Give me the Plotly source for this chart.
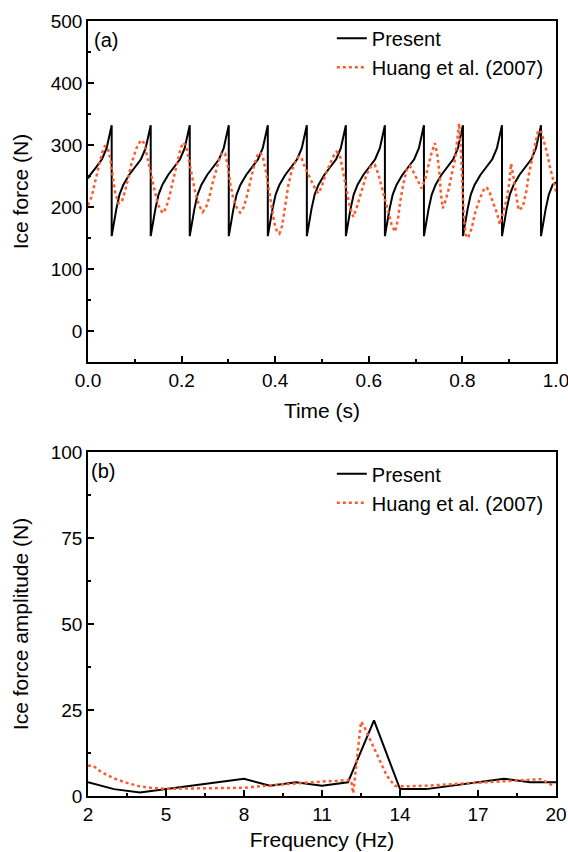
import plotly.graph_objects as go

# ---------------- data: panel (a) ----------------
time_present = [
    0.0000, 0.0047, 0.0172, 0.0298, 0.0398, 0.0464, 0.0506,
    0.0506, 0.0548, 0.0606, 0.0673, 0.0756, 0.0881, 0.1006, 0.1132, 0.1232, 0.1298, 0.1340,
    0.1340, 0.1382, 0.1440, 0.1507, 0.1590, 0.1715, 0.1840, 0.1966, 0.2066, 0.2132, 0.2174,
    0.2174, 0.2216, 0.2274, 0.2341, 0.2424, 0.2549, 0.2674, 0.2800, 0.2900, 0.2966, 0.3008,
    0.3008, 0.3050, 0.3108, 0.3175, 0.3258, 0.3383, 0.3508, 0.3634, 0.3734, 0.3800, 0.3842,
    0.3842, 0.3884, 0.3942, 0.4009, 0.4092, 0.4217, 0.4342, 0.4468, 0.4568, 0.4634, 0.4676,
    0.4676, 0.4718, 0.4776, 0.4843, 0.4926, 0.5051, 0.5176, 0.5302, 0.5402, 0.5468, 0.5510,
    0.5510, 0.5552, 0.5610, 0.5677, 0.5760, 0.5885, 0.6010, 0.6136, 0.6236, 0.6302, 0.6344,
    0.6344, 0.6386, 0.6444, 0.6511, 0.6594, 0.6719, 0.6844, 0.6970, 0.7070, 0.7136, 0.7178,
    0.7178, 0.7220, 0.7278, 0.7345, 0.7428, 0.7553, 0.7678, 0.7804, 0.7904, 0.7970, 0.8012,
    0.8012, 0.8054, 0.8112, 0.8179, 0.8262, 0.8387, 0.8512, 0.8638, 0.8738, 0.8804, 0.8846,
    0.8846, 0.8888, 0.8946, 0.9013, 0.9096, 0.9221, 0.9346, 0.9472, 0.9572, 0.9638, 0.9680,
    0.9680, 0.9722, 0.9780, 0.9847, 0.9930, 1.0000,
]
force_present = [
    246, 252, 264, 277, 295, 316, 332,
    153, 172, 197, 220, 236, 252, 264, 277, 295, 316, 332,
    153, 172, 197, 220, 236, 252, 264, 277, 295, 316, 332,
    153, 172, 197, 220, 236, 252, 264, 277, 295, 316, 332,
    153, 172, 197, 220, 236, 252, 264, 277, 295, 316, 332,
    153, 172, 197, 220, 236, 252, 264, 277, 295, 316, 332,
    153, 172, 197, 220, 236, 252, 264, 277, 295, 316, 332,
    153, 172, 197, 220, 236, 252, 264, 277, 295, 316, 332,
    153, 172, 197, 220, 236, 252, 264, 277, 295, 316, 332,
    153, 172, 197, 220, 236, 252, 264, 277, 295, 316, 332,
    153, 172, 197, 220, 236, 252, 264, 277, 295, 316, 332,
    153, 172, 197, 220, 236, 252, 264, 277, 295, 316, 332,
    153, 172, 197, 220, 236, 240,
]

time_huang = [
    0.000, 0.008, 0.015, 0.023, 0.030, 0.036, 0.042, 0.047, 0.052, 0.058, 0.065, 0.072,
    0.079, 0.086, 0.093, 0.103, 0.113, 0.120, 0.126, 0.133, 0.140, 0.147, 0.154, 0.160,
    0.167, 0.175, 0.183, 0.191, 0.198, 0.204, 0.210, 0.215, 0.222, 0.229, 0.237, 0.245,
    0.252, 0.259, 0.266, 0.273, 0.280, 0.287, 0.293, 0.299, 0.304, 0.310, 0.317, 0.325,
    0.333, 0.341, 0.348, 0.355, 0.362, 0.368, 0.374, 0.380, 0.386, 0.392, 0.398, 0.404,
    0.409, 0.415, 0.421, 0.428, 0.435, 0.443, 0.450, 0.456, 0.463, 0.471, 0.478, 0.485,
    0.492, 0.499, 0.506, 0.514, 0.523, 0.531, 0.538, 0.543, 0.549, 0.555, 0.560, 0.567,
    0.574, 0.581, 0.588, 0.595, 0.604, 0.613, 0.620, 0.627, 0.635, 0.642, 0.649, 0.656,
    0.662, 0.667, 0.674, 0.681, 0.688, 0.695, 0.704, 0.713, 0.720, 0.727, 0.734, 0.741,
    0.746, 0.751, 0.754, 0.758, 0.763, 0.770, 0.777, 0.784, 0.789, 0.793, 0.796, 0.800,
    0.803, 0.807, 0.812, 0.820, 0.827, 0.836, 0.845, 0.852, 0.859, 0.866, 0.874, 0.880,
    0.887, 0.894, 0.900, 0.904, 0.909, 0.915, 0.920, 0.929, 0.937, 0.941, 0.948, 0.955,
    0.962, 0.969, 0.976, 0.981, 0.987, 0.993, 1.000,
]
force_huang = [
    203, 217, 240, 265, 287, 298, 296, 280, 252, 224, 206, 208,
    225, 248, 270, 294, 308, 303, 283, 256, 233, 211, 196, 190,
    199, 220, 247, 272, 295, 304, 298, 278, 250, 224, 203, 192,
    199, 215, 238, 258, 276, 288, 286, 265, 238, 215, 200, 191,
    200, 222, 246, 268, 283, 288, 280, 258, 230, 200, 175, 160,
    157, 170, 200, 235, 258, 273, 281, 280, 265, 252, 241, 230,
    222, 232, 249, 265, 280, 289, 284, 265, 238, 217, 200, 184,
    199, 217, 235, 252, 265, 268, 254, 235, 211, 190, 171, 160,
    179, 208, 238, 260, 266, 257, 244, 230, 244, 265, 287, 303,
    287, 254, 222, 198, 208, 227, 249, 276, 308, 335, 303, 238,
    184, 155, 150, 166, 190, 211, 227, 232, 222, 206, 190, 172,
    190, 211, 238, 270, 249, 217, 195, 200, 227, 249, 276, 303,
    324, 320, 303, 287, 265, 244, 225,
]

# ---------------- data: panel (b) ----------------
freq_present = [2, 3, 4, 5, 6, 7, 8, 9, 10, 11, 12, 13, 14, 15, 16, 17, 18, 19, 20]
amp_present = [4.0, 2.0, 1.0, 2.0, 3.0, 4.0, 5.0, 3.0, 4.0, 3.0, 4.0, 22.0,
               2.0, 2.0, 3.0, 4.0, 5.0, 4.0, 4.0]

freq_huang = [2.0, 2.2, 2.5, 3.0, 3.5, 4.0, 4.5, 5.0, 6.0, 7.0, 8.0, 9.0, 10.0, 11.0,
              12.0, 12.12, 12.2, 12.35, 12.5, 12.6, 12.85, 13.2, 13.5, 13.8, 14.1,
              15.0, 16.0, 17.0, 18.0, 19.0, 19.4, 19.7, 19.9]
amp_huang = [8.8, 8.8, 7.0, 5.1, 3.8, 2.8, 2.3, 2.1, 2.2, 2.2, 2.4, 3.1, 3.7, 4.2,
             4.6, 4.5, 0.8, 12.0, 21.6, 20.5, 16.5, 10.5, 5.8, 3.0, 2.8,
             3.0, 3.4, 4.0, 4.3, 4.8, 4.9, 3.8, 2.9]

# ---------------- styling ----------------
FONT = "Liberation Sans, Arial, sans-serif"
BLACK = "#000000"
RED = "#FF5A2C"
TICK_SIZE = 19
TITLE_SIZE = 21
LEGEND_SIZE = 20

fig = go.Figure()
fig.add_trace(go.Scatter(x=time_present, y=force_present, mode="lines", name="Present",
                         line=dict(color=BLACK, width=2), xaxis="x", yaxis="y",
                         legend="legend"))
fig.add_trace(go.Scatter(x=time_huang, y=force_huang, mode="lines", name="Huang et al. (2007)",
                         line=dict(color=RED, width=2.5, dash="dot"), xaxis="x", yaxis="y",
                         legend="legend"))
fig.add_trace(go.Scatter(x=freq_present, y=amp_present, mode="lines", name="Present",
                         line=dict(color=BLACK, width=2), xaxis="x2", yaxis="y2",
                         legend="legend2"))
fig.add_trace(go.Scatter(x=freq_huang, y=amp_huang, mode="lines", name="Huang et al. (2007)",
                         line=dict(color=RED, width=2.5, dash="dot"), xaxis="x2", yaxis="y2",
                         legend="legend2"))

axis_common = dict(showline=True, linecolor=BLACK, linewidth=1.5, mirror=True,
                   ticks="inside", ticklen=6, tickwidth=1.5, tickcolor=BLACK,
                   showgrid=False, zeroline=False, automargin=False,
                   ticklabeloverflow="allow",
                   tickfont=dict(family=FONT, size=TICK_SIZE, color=BLACK))
minor_common = dict(ticks="inside", ticklen=3.5, tickwidth=1.5, tickcolor=BLACK)

fig.update_layout(
    width=568, height=852,
    margin=dict(l=88, r=12, t=21, b=56),
    paper_bgcolor="white", plot_bgcolor="white",
    font=dict(family=FONT, size=TICK_SIZE, color=BLACK),
    xaxis=dict(domain=[0, 1], anchor="y", range=[0, 1], tickvals=[0, 0.2, 0.4, 0.6, 0.8, 1.0],
               ticktext=["0.0", "0.2", "0.4", "0.6", "0.8", "1.0"],
               minor=dict(dtick=0.1, **minor_common),
               title=dict(text="Time (s)", font=dict(size=TITLE_SIZE), standoff=14),
               **axis_common),
    yaxis=dict(domain=[0.56, 1.0], anchor="x", range=[-50, 500], tickvals=[0, 100, 200, 300, 400, 500],
               minor=dict(dtick=50, **minor_common),
               title=dict(text="Ice force (N)", font=dict(size=TITLE_SIZE), standoff=16),
               **axis_common),
    xaxis2=dict(domain=[0, 1], anchor="y2", range=[2, 20], tickvals=[2, 5, 8, 11, 14, 17, 20],
                minor=dict(tickvals=[3.5, 6.5, 9.5, 12.5, 15.5, 18.5], **minor_common),
                title=dict(text="Frequency (Hz)", font=dict(size=TITLE_SIZE), standoff=9),
                **axis_common),
    yaxis2=dict(domain=[0, 0.4439], anchor="x2", range=[0, 100], tickvals=[0, 25, 50, 75, 100],
                minor=dict(tickvals=[12.5, 37.5, 62.5, 87.5], **minor_common),
                title=dict(text="Ice force amplitude (N)", font=dict(size=TITLE_SIZE), standoff=16),
                **axis_common),
    legend=dict(x=0.521, y=1.003, xanchor="left", yanchor="top", bgcolor="rgba(0,0,0,0)",
                font=dict(family=FONT, size=LEGEND_SIZE), itemwidth=30, tracegroupgap=0),
    legend2=dict(x=0.521, y=0.441, xanchor="left", yanchor="top", bgcolor="rgba(0,0,0,0)",
                 font=dict(family=FONT, size=LEGEND_SIZE), itemwidth=30, tracegroupgap=0),
    annotations=[
        dict(text="(a)", xref="x domain", yref="y domain", x=0.008, y=0.944,
             xanchor="left", yanchor="middle", showarrow=False, font=dict(family=FONT, size=LEGEND_SIZE)),
        dict(text="(b)", xref="x2 domain", yref="y2 domain", x=0.003, y=0.945,
             xanchor="left", yanchor="middle", showarrow=False, font=dict(family=FONT, size=LEGEND_SIZE)),
    ],
)

fig.write_html("out.html")
